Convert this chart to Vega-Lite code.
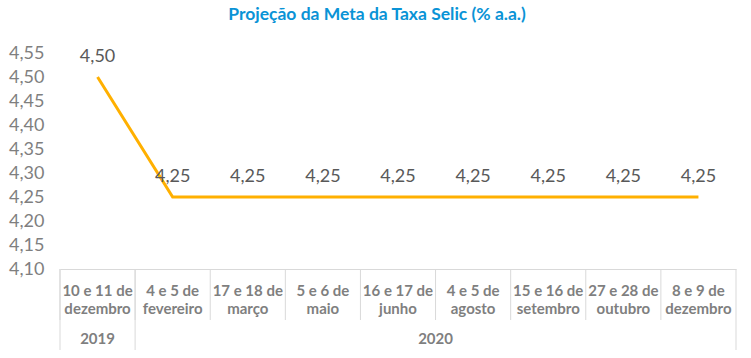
{
  "$schema": "https://vega.github.io/schema/vega-lite/v6.json",
  "width": 676,
  "height": 216,
  "autosize": {"type": "none"},
  "padding": {"left": 60, "top": 53, "right": 15, "bottom": 89},
  "background": "white",
  "title": {
    "text": "Projeção da Meta da Taxa Selic (% a.a.)",
    "font": "Lato",
    "fontSize": 17.5,
    "fontWeight": "bold",
    "color": "#0a93d6",
    "anchor": "middle",
    "dx": -21,
    "offset": 21
  },
  "config": {
    "locale": {"number": {"decimal": ",", "thousands": ".", "grouping": [3], "currency": ["R$", ""]}},
    "view": {"stroke": null},
    "font": "Lato",
    "axis": {"labelOverlap": false}
  },
  "data": {
    "values": [
      {"meeting": "10 e 11 de dezembro", "year": "2019", "value": 4.50},
      {"meeting": "4 e 5 de fevereiro", "year": "2020", "value": 4.25},
      {"meeting": "17 e 18 de março", "year": "2020", "value": 4.25},
      {"meeting": "5 e 6 de maio", "year": "2020", "value": 4.25},
      {"meeting": "16 e 17 de junho", "year": "2020", "value": 4.25},
      {"meeting": "4 e 5 de agosto", "year": "2020", "value": 4.25},
      {"meeting": "15 e 16 de setembro", "year": "2020", "value": 4.25},
      {"meeting": "27 e 28 de outubro", "year": "2020", "value": 4.25},
      {"meeting": "8 e 9 de dezembro", "year": "2020", "value": 4.25}
    ]
  },
  "encoding": {
    "x": {
      "field": "meeting",
      "type": "nominal",
      "sort": null,
      "scale": {"paddingInner": 0, "paddingOuter": 0},
      "axis": {
        "title": null,
        "ticks": false,
        "domainColor": "#d9d9d9",
        "labelAngle": 0,
        "labelFont": "Lato",
        "labelFontSize": 15,
        "labelFontWeight": "bold",
        "labelColor": "#7f7f7f",
        "labelPadding": 14,
        "labelLineHeight": 18,
        "labelOverlap": false,
        "labelExpr": "split(replace(datum.label, ' de ', ' de|'), '|')"
      }
    },
    "y": {
      "field": "value",
      "type": "quantitative",
      "scale": {"domain": [4.10, 4.55], "nice": false, "zero": false},
      "axis": {
        "title": null,
        "values": [4.10, 4.15, 4.20, 4.25, 4.30, 4.35, 4.40, 4.45, 4.50, 4.55],
        "tickCount": 10,
        "format": ".2f",
        "domain": false,
        "ticks": false,
        "grid": false,
        "labelOverlap": false,
        "labelFont": "Lato",
        "labelFontSize": 18,
        "labelColor": "#7f7f7f",
        "labelPadding": 16
      }
    }
  },
  "layer": [
    {
      "mark": {"type": "line", "color": "#ffb000", "strokeWidth": 3}
    },
    {
      "mark": {"type": "text", "dy": -20, "fontSize": 18, "color": "#595959", "font": "Lato"},
      "encoding": {
        "text": {"field": "value", "type": "quantitative", "format": ".2f"}
      }
    },
    {
      "mark": {"type": "rule", "color": "#d9d9d9", "strokeWidth": 1, "y2Offset": 51},
      "encoding": {
        "x": {"field": "meeting", "type": "nominal", "sort": null, "bandPosition": 0},
        "y": {"datum": 4.10},
        "y2": {"datum": 4.10}
      }
    },
    {
      "transform": [
        {"window": [{"op": "row_number", "as": "r"}], "groupby": ["year"]},
        {"filter": "datum.r == 1"}
      ],
      "mark": {"type": "rule", "color": "#d9d9d9", "strokeWidth": 1, "y2Offset": 81},
      "encoding": {
        "x": {"field": "meeting", "type": "nominal", "sort": null, "bandPosition": 0},
        "y": {"datum": 4.10},
        "y2": {"datum": 4.10}
      }
    },
    {
      "transform": [{"filter": "datum.meeting == '8 e 9 de dezembro'"}],
      "mark": {"type": "rule", "color": "#d9d9d9", "strokeWidth": 1, "y2Offset": 81},
      "encoding": {
        "x": {"field": "meeting", "type": "nominal", "sort": null, "bandPosition": 1},
        "y": {"datum": 4.10},
        "y2": {"datum": 4.10}
      }
    },
    {
      "transform": [{"filter": "datum.year == '2019'"}],
      "mark": {"type": "text", "yOffset": 70, "fontSize": 15, "fontWeight": "bold", "color": "#7f7f7f", "font": "Lato"},
      "encoding": {
        "x": {"field": "meeting", "type": "nominal", "sort": null, "bandPosition": 0.5},
        "y": {"datum": 4.10},
        "text": {"field": "year"}
      }
    },
    {
      "transform": [
        {"window": [{"op": "row_number", "as": "r"}], "groupby": ["year"]},
        {"filter": "datum.year == '2020' && datum.r == 1"}
      ],
      "mark": {"type": "text", "yOffset": 70, "fontSize": 15, "fontWeight": "bold", "color": "#7f7f7f", "font": "Lato"},
      "encoding": {
        "x": {"field": "meeting", "type": "nominal", "sort": null, "bandPosition": 4},
        "y": {"datum": 4.10},
        "text": {"field": "year"}
      }
    }
  ]
}
